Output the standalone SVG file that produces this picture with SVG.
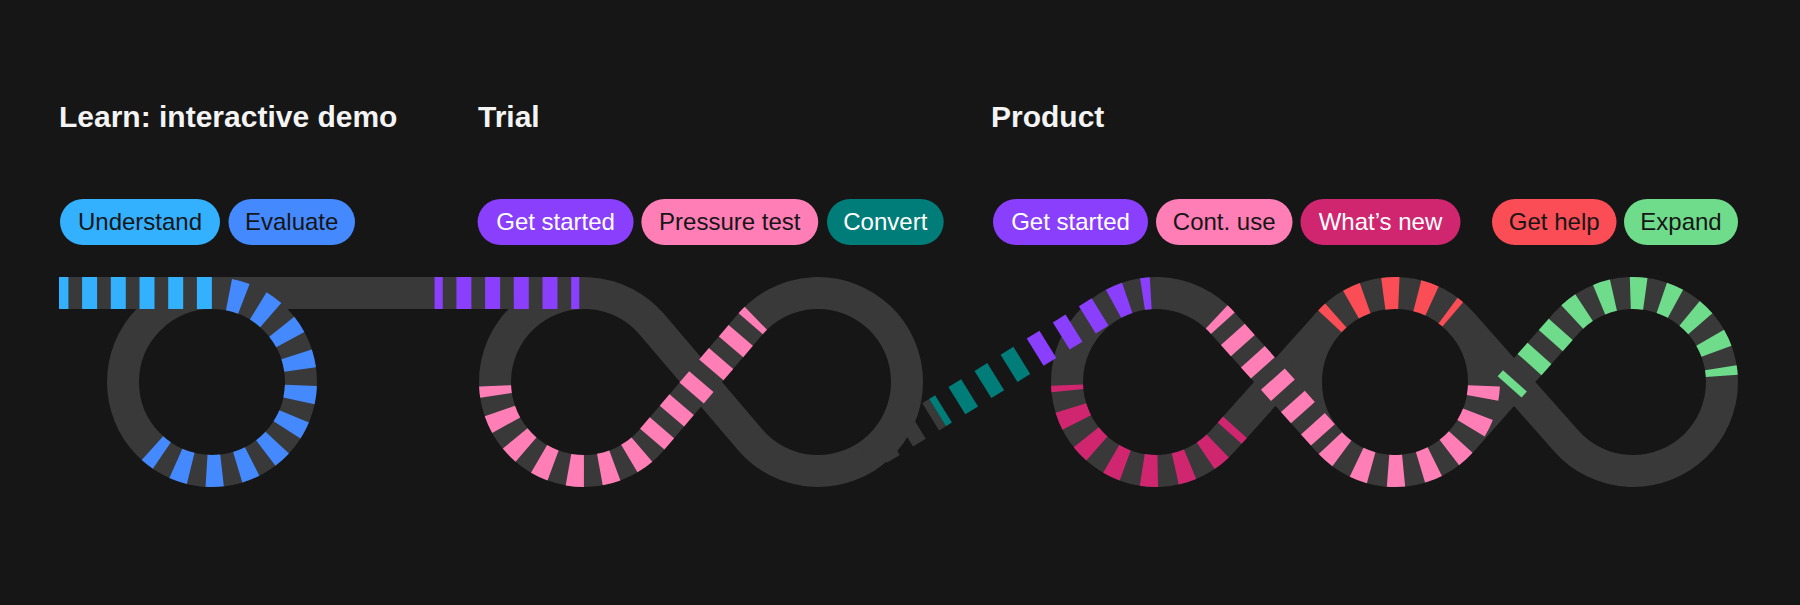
<svg xmlns="http://www.w3.org/2000/svg" width="1800" height="605" viewBox="0 0 1800 605">
<style>
.track{fill:none;stroke:#393939;stroke-width:32}
.dash{fill:none;stroke-width:32;stroke-linecap:butt}
.cyan{stroke:#33b1ff}.blue{stroke:#4589ff}.purple{stroke:#8a3ffc}.pink{stroke:#ff7eb6}
.teal{stroke:#007d79}.magenta{stroke:#d02670}.red{stroke:#fa4d56}.green{stroke:#6fdc8c}.grey{stroke:#393939}
.title{font-family:"Liberation Sans",Arial,sans-serif;font-weight:700;font-size:30px;fill:#f4f4f4}
.pt{font-family:"Liberation Sans",Arial,sans-serif;font-size:24px;text-anchor:middle}
.dk{fill:#161616}.lt{fill:#ffffff}
</style>
<rect width="1800" height="605" fill="#161616"/>

<g id="title-learn"><text class="title" x="59" y="127">Learn: interactive demo</text></g>
<g id="title-trial"><text class="title" x="478" y="127">Trial</text></g>
<g id="title-product"><text class="title" x="991" y="127">Product</text></g>

<g id="pill-understand"><rect x="60" y="199" width="160" height="46" rx="23" fill="#33b1ff"/><text class="pt dk" x="140" y="230">Understand</text></g>
<g id="pill-evaluate"><rect x="228.5" y="199" width="126.5" height="46" rx="23" fill="#4589ff"/><text class="pt dk" x="291.7" y="230">Evaluate</text></g>
<g id="pill-trial-get-started"><rect x="477.6" y="199" width="156" height="46" rx="23" fill="#8a3ffc"/><text class="pt lt" x="555.6" y="230">Get started</text></g>
<g id="pill-pressure-test"><rect x="641.4" y="199" width="176.8" height="46" rx="23" fill="#ff7eb6"/><text class="pt dk" x="729.8" y="230">Pressure test</text></g>
<g id="pill-convert"><rect x="827" y="199" width="116.7" height="46" rx="23" fill="#007d79"/><text class="pt lt" x="885.3" y="230">Convert</text></g>
<g id="pill-product-get-started"><rect x="993" y="199" width="155" height="46" rx="23" fill="#8a3ffc"/><text class="pt lt" x="1070.5" y="230">Get started</text></g>
<g id="pill-cont-use"><rect x="1156" y="199" width="136.5" height="46" rx="23" fill="#ff7eb6"/><text class="pt dk" x="1224.2" y="230">Cont. use</text></g>
<g id="pill-whats-new"><rect x="1300.5" y="199" width="160" height="46" rx="23" fill="#d02670"/><text class="pt lt" x="1380.5" y="230">What’s new</text></g>
<g id="pill-get-help"><rect x="1492" y="199" width="124.5" height="46" rx="23" fill="#fa4d56"/><text class="pt dk" x="1554.2" y="230">Get help</text></g>
<g id="pill-expand"><rect x="1624" y="199" width="114" height="46" rx="23" fill="#6fdc8c"/><text class="pt dk" x="1681" y="230">Expand</text></g>

<g id="connectors">
  <!-- grey tracks -->
  <path class="track" d="M59,293 H584"/>
  <circle class="track" cx="212" cy="382" r="89"/>
  <path class="track" d="M651.70,324.23 A89,89 0 1 0 651.70,439.77 L750.30,324.23 A89,89 0 1 1 750.30,439.77 Z"/>
  <path class="track" d="M1222.28,322.61 A89,89 0 1 0 1222.28,441.39 L1328.72,322.61 M1328.72,441.39 L1222.28,322.61 M1461.56,441.08 L1566.44,322.92 A89,89 0 1 1 1566.44,441.08 L1461.56,322.92"/>
  <circle class="track" cx="1395" cy="382" r="89"/>

  <!-- Learn -->
  <path class="dash cyan" d="M59,293 H213" stroke-dasharray="15 13.7" stroke-dashoffset="5.6"/>
  <path class="dash blue" d="M228.98,294.63 A89,89 0 1 1 152.45,448.14" stroke-dasharray="15.53 16" stroke-dashoffset="0"/>

  <!-- Trial -->
  <path class="dash purple" d="M434.6,293 H579.3" stroke-dasharray="15 13.7" stroke-dashoffset="6.9"/>
  <path class="dash pink" d="M495.08,385.88 A89,89 0 0 0 651.70,439.77" stroke-dasharray="15.53 16" stroke-dashoffset="5.9"/>
  <path class="dash pink" d="M651.70,439.77 L750.30,324.23 A89,89 0 0 1 755.84,318.30" stroke-dasharray="15 15.35" stroke-dashoffset="29.55"/>

  <!-- Trial to Product connector -->
  <path class="dash grey" d="M864.87,457.66 L937.55,412.63" stroke-dasharray="15 15.7" stroke-dashoffset="14.6"/>
  <path class="dash teal" d="M937.55,412.63 L1027.66,356.81" stroke-dasharray="15 15.7" stroke-dashoffset="8"/>
  <path class="dash purple" d="M1027.66,356.81 L1109.13,306.34 A89,89 0 0 1 1150.72,293.16" stroke-dasharray="15 15.7" stroke-dashoffset="21.9"/>

  <!-- Product -->
  <path class="dash pink" d="M1216.69,316.90 A89,89 0 0 1 1222.28,322.61 L1328.72,441.39" stroke-dasharray="15 15" stroke-dashoffset="6.2"/>
  <path class="dash pink" d="M1328.72,441.39 A89,89 0 0 0 1483.92,385.88" stroke-dasharray="15.53 17.15" stroke-dashoffset="30.29"/>
  <path class="dash magenta" d="M1067.05,385.11 A89,89 0 0 0 1222.28,441.39 L1234.96,427.24" stroke-dasharray="15.53 17.66" stroke-dashoffset="9.94"/>
  <path class="dash red" d="M1329.91,321.30 A89,89 0 0 1 1452.80,314.32" stroke-dasharray="15.53 18.64" stroke-dashoffset="7.15"/>
  <path class="dash green" d="M1509.62,386.93 L1514.93,380.95"/>
  <path class="dash green" d="M1527.94,366.30 L1566.44,322.92 A89,89 0 0 1 1721.78,375.79" stroke-dasharray="15 17" stroke-dashoffset="29.6"/>
</g>
</svg>
